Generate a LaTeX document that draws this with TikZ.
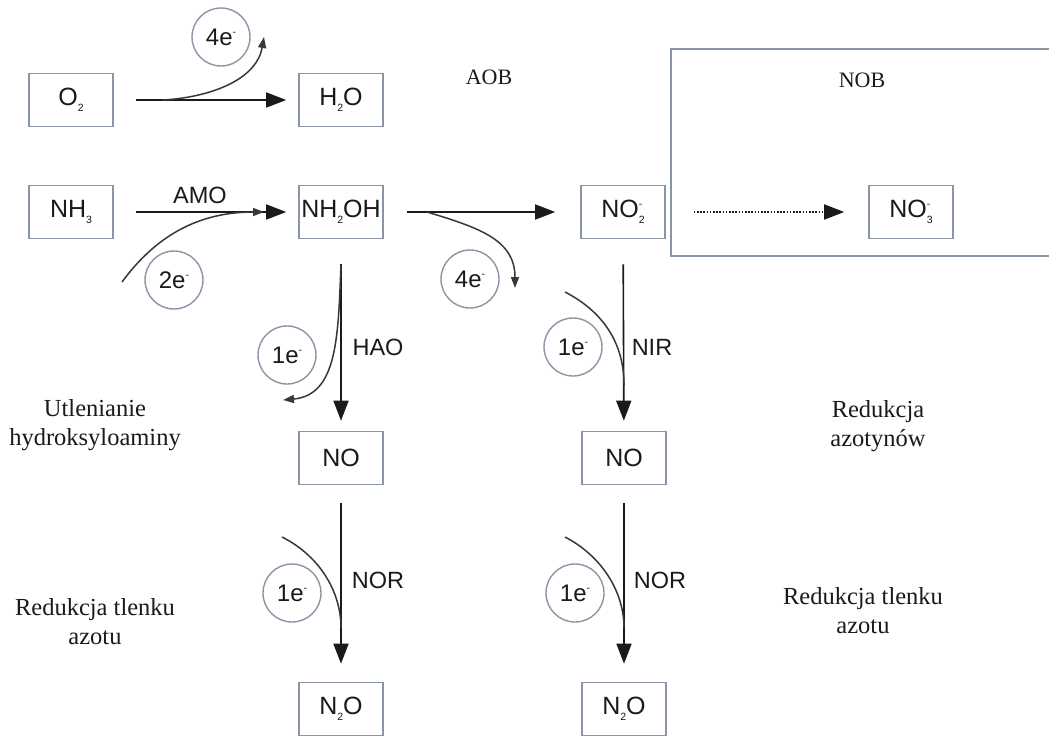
\documentclass[tikz,border=0pt]{standalone}
\usepackage{fontspec}
\setmainfont{Liberation Serif}
\setsansfont{Liberation Sans}
\usetikzlibrary{arrows.meta}
\definecolor{boxline}{HTML}{8A96A6}
\definecolor{ink}{HTML}{1A1A1A}
\definecolor{curveink}{HTML}{383838}
% chemical sub- and superscripts, small and set close to the letters
\newcommand\chsub[1]{\raisebox{-5.5pt}{\fontsize{10.5}{10.5}\selectfont #1}}
\newcommand\chsup[1]{\raisebox{10pt}{\fontsize{10.5}{10.5}\selectfont #1}}
\newcommand\chion[2]{\rlap{\chsup{#2}}\chsub{#1}}
\begin{document}
\begin{tikzpicture}[x=1pt,y=-1pt,
  species/.style={draw=boxline, line width=1.6pt, minimum width=84pt, minimum height=53pt,
    inner sep=0pt, font=\sffamily\fontsize{25}{25}\selectfont, text=ink},
  electron/.style={draw=boxline, line width=1.4pt, circle, minimum size=58pt, inner sep=0pt,
    font=\sffamily\fontsize{24}{24}\selectfont, text=ink},
  enzyme/.style={font=\sffamily\fontsize{23.5}{23.5}\selectfont, text=ink},
  group/.style={font=\fontsize{22}{22}\selectfont, text=ink},
  caption/.style={font=\fontsize{24.5}{29}\selectfont, align=center, text=ink},
  flow/.style={draw=ink, line width=1.6pt, -{Triangle[length=20pt,width=15pt]}},
  transfer/.style={draw=curveink, line width=1.5pt},
  transferhead/.style={transfer, -{Triangle[length=11pt,width=8pt]}},
]
\useasboundingbox[fill=white] (0,0) rectangle (1049,736);

% NOB region, open on the right
\draw[boxline, line width=1.6pt] (1060,49) -- (671,49) -- (671,256) -- (1060,256);

% species
\node[species] (O2)    at (71,100)  {O\chsub{2}};
\node[species] (H2O)   at (341,100) {H\chsub{2}O};
\node[species] (NH3)   at (71,212)  {NH\chsub{3}};
\node[species] (NH2OH) at (341,212) {NH\chsub{2}OH};
\node[species] (NO2)   at (623,212) {NO\chion{2}{-}};
\node[species] (NO3)   at (911,212) {NO\chion{3}{-}};
\node[species] (NOa)   at (341,458) {NO};
\node[species] (NOb)   at (624,458) {NO};
\node[species] (N2Oa)  at (341,709) {N\chsub{2}O};
\node[species] (N2Ob)  at (624,709) {N\chsub{2}O};

% group labels
\node[group] (aob) at (489,77) {AOB};
\node[group] (nob) at (862,80) {NOB};

% electron circles
\node[electron] (e4top) at (221,37)  {4e\chsup{-}};
\node[electron] (e2)    at (174,280) {2e\chsup{-}};
\node[electron] (e4low) at (470,279) {4e\chsup{-}};
\node[electron] (e1hao) at (287,355) {1e\chsup{-}};
\node[electron] (e1nir) at (573,347) {1e\chsup{-}};
\node[electron] (e1nora) at (292,593) {1e\chsup{-}};
\node[electron] (e1norb) at (575,593) {1e\chsup{-}};

% enzymes
\node[enzyme] (amo)  at (200,195) {AMO};
\node[enzyme] (hao)  at (378,347) {HAO};
\node[enzyme] (nir)  at (652,347) {NIR};
\node[enzyme] (nora) at (378,580) {NOR};
\node[enzyme] (norb) at (660,580) {NOR};

% process captions
\node[caption] (cap1) at (95,425)  {Utlenianie\\hydroksyloaminy};
\node[caption] (cap2) at (95,622)  {Redukcja tlenku\\azotu};
\node[caption] (cap3) at (878,426) {Redukcja\\azotynów};
\node[caption] (cap4) at (863,611) {Redukcja tlenku\\azotu};

% main reaction arrows
\draw[flow, shorten <=22pt, shorten >=12pt] (O2) -- (H2O);
\draw[flow, shorten <=22pt, shorten >=12pt] (NH3) -- (NH2OH);
\draw[flow, shorten <=23pt, shorten >=25pt] (NH2OH) -- (NO2);
\draw[flow, dash pattern=on 1.6pt off 1.6pt, shorten <=28pt, shorten >=24pt] (NO2) -- (NO3);
\draw[flow, shorten <=25pt, shorten >=10pt] (NH2OH) -- (NOa);
\draw[flow, shorten <=25pt, shorten >=10pt] (NO2) -- (NOb);
\draw[flow, shorten <=18pt, shorten >=18pt] (NOa) -- (N2Oa);
\draw[flow, shorten <=18pt, shorten >=18pt] (NOb) -- (N2Ob);

% electron transfer curves
\coordinate (t1s) at (162,100);  \coordinate (t1e) at (264,37);
\coordinate (t2s) at (122,282);  \coordinate (t2e) at (264,212);
\coordinate (t3s) at (427,212);  \coordinate (t3e) at (515,288);
\coordinate (t4s) at (341,265);  \coordinate (t4e) at (283,400);
\coordinate (t5s) at (565,292);  \coordinate (t5e) at (624,385);
\coordinate (t6s) at (282,537);  \coordinate (t6e) at (341,628);
\coordinate (t7s) at (565,537);  \coordinate (t7e) at (624,628);

\draw[transferhead] (t1s) .. controls (205,98) and (256,82) .. (t1e);
\draw[transferhead] (t2s) .. controls (150,244) and (190,212) .. (t2e);
\draw[transferhead] (t3s) .. controls (480,228) and (515,240) .. (t3e);
\draw[transferhead] (t4s) .. controls (338,335) and (338,395) .. (t4e);
\draw[transfer] (t5s) .. controls (600,310) and (624,340) .. (t5e);
\draw[transfer] (t6s) .. controls (318,555) and (341,590) .. (t6e);
\draw[transfer] (t7s) .. controls (600,555) and (624,590) .. (t7e);
\end{tikzpicture}
\end{document}
